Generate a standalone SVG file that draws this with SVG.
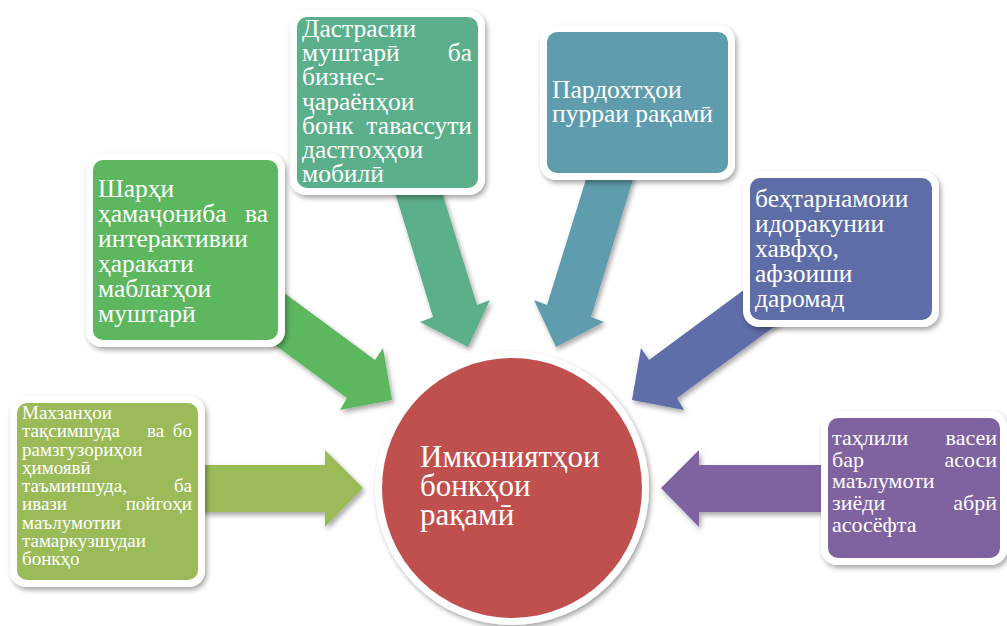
<svg xmlns="http://www.w3.org/2000/svg" width="1007" height="626" viewBox="0 0 1007 626">
<defs>
<filter id="sh" x="-20%" y="-20%" width="140%" height="140%">
<feDropShadow dx="2" dy="3" stdDeviation="2.5" flood-color="#000" flood-opacity="0.35"/>
</filter>
<style>
.t{font-family:"Liberation Serif","DejaVu Serif",serif;fill:#fff}
.s1{font-size:19px}
.s2{font-size:25.5px}
.s6{font-size:22px}
.sc{font-size:31px}
.e{text-anchor:end}
.frame{fill:#fff;filter:url(#sh)}
.arr{filter:url(#sh)}
</style>
</defs>
<rect width="1007" height="626" fill="#fff"/>
<g id="connectors">
<polygon class="arr" fill="#9BBB59" points="195,465 325,465 325,450 363,488 325,527 325,512 195,512"/>
<polygon class="arr" fill="#5DB75E" points="272,284 375,360 383,348 392,400 340,410 347,398 260,334"/>
<polygon class="arr" fill="#5BAF8B" points="390,176 437,176 477,305 490,300 468,347 420,322 433,317"/>
<polygon class="arr" fill="#5F9CAE" points="634,176 587,176 547,305 534,300 556,347 604,322 591,317"/>
<polygon class="arr" fill="#5E6DA8" points="760,278 649,360 641,348 632,400 684,410 677,398 790,315"/>
<polygon class="arr" fill="#7F63A1" points="829,465 699,465 699,450 661,488 699,527 699,512 829,512"/>
</g>
<g id="center">
<circle cx="512" cy="488" r="137" class="frame"/>
<circle cx="512" cy="488" r="130" fill="#C0504D"/>
<text class="t sc" x="420" y="467">Имкониятҳои</text>
<text class="t sc" x="420" y="496">бонкҳои</text>
<text class="t sc" x="420" y="525">рақамӣ</text>
</g>
<g id="box1">
<rect class="frame" x="10" y="396" width="195" height="191" rx="16"/>
<rect x="17" y="403" width="181" height="177" rx="10" fill="#9BBB59"/>
<text class="t s1" x="22" y="419">Махзанҳои</text>
<text class="t s1" x="22" y="437">тақсимшуда</text><text class="t s1" x="147" y="437">ва</text><text class="t s1 e" x="192" y="437">бо</text>
<text class="t s1" x="22" y="456">рамзгузориҳои</text>
<text class="t s1" x="22" y="474">ҳимоявӣ</text>
<text class="t s1" x="22" y="492">таъминшуда,</text><text class="t s1 e" x="192" y="492">ба</text>
<text class="t s1" x="22" y="510">ивази</text><text class="t s1 e" x="192" y="510">пойгоҳи</text>
<text class="t s1" x="22" y="529">маълумотии</text>
<text class="t s1" x="22" y="547">тамаркузшудаи</text>
<text class="t s1" x="22" y="565">бонкҳо</text>
</g>
<g id="box2">
<rect class="frame" x="86" y="153" width="199" height="194" rx="16"/>
<rect x="93" y="160" width="185" height="180" rx="10" fill="#5DB75E"/>
<text class="t s2" x="98" y="197">Шарҳи</text>
<text class="t s2" x="98" y="222">ҳамаҷониба</text><text class="t s2 e" x="268" y="222">ва</text>
<text class="t s2" x="98" y="247">интерактивии</text>
<text class="t s2" x="98" y="272">ҳаракати</text>
<text class="t s2" x="98" y="297">маблағҳои</text>
<text class="t s2" x="98" y="322">муштарӣ</text>
</g>
<g id="box3">
<rect class="frame" x="290" y="10" width="195" height="185" rx="16"/>
<rect x="297" y="17" width="181" height="171" rx="10" fill="#5BAF8B"/>
<text class="t s2" x="302" y="37">Дастрасии</text>
<text class="t s2" x="302" y="61">муштарӣ</text><text class="t s2 e" x="472" y="61">ба</text>
<text class="t s2" x="302" y="85">бизнес-</text>
<text class="t s2" x="302" y="110">ҷараёнҳои</text>
<text class="t s2" x="302" y="134">бонк</text><text class="t s2 e" x="472" y="134">тавассути</text>
<text class="t s2" x="302" y="158">дастгоҳҳои</text>
<text class="t s2" x="302" y="182">мобилӣ</text>
</g>
<g id="box4">
<rect class="frame" x="540" y="25" width="195" height="155" rx="16"/>
<rect x="547" y="32" width="181" height="141" rx="10" fill="#5F9CAE"/>
<text class="t s2" x="552" y="98">Пардохтҳои</text>
<text class="t s2" x="552" y="122">пурраи рақамӣ</text>
</g>
<g id="box5">
<rect class="frame" x="743" y="171" width="196" height="156" rx="16"/>
<rect x="750" y="178" width="182" height="142" rx="10" fill="#5E6DA8"/>
<text class="t s2" x="755" y="207">беҳтарнамоии</text>
<text class="t s2" x="755" y="232">идоракунии</text>
<text class="t s2" x="755" y="257">хавфҳо,</text>
<text class="t s2" x="755" y="282">афзоиши</text>
<text class="t s2" x="755" y="307">даромад</text>
</g>
<g id="box6">
<rect class="frame" x="821" y="411" width="186" height="154" rx="16"/>
<rect x="828" y="418" width="172" height="140" rx="10" fill="#7F63A1"/>
<text class="t s6" x="832" y="445">таҳлили</text><text class="t s6 e" x="997" y="445">васеи</text>
<text class="t s6" x="832" y="467">бар</text><text class="t s6 e" x="997" y="467">асоси</text>
<text class="t s6" x="832" y="488">маълумоти</text>
<text class="t s6" x="832" y="510">зиёди</text><text class="t s6 e" x="997" y="510">абрӣ</text>
<text class="t s6" x="832" y="532">асосёфта</text>
</g>
</svg>
